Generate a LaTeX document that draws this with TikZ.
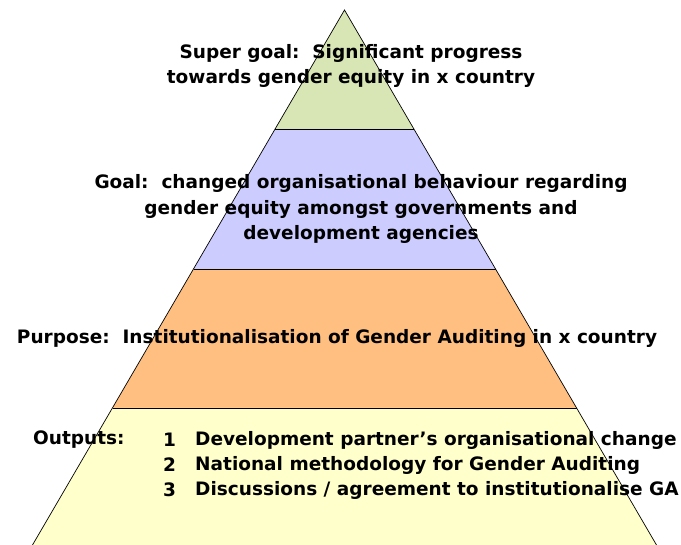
\documentclass[tikz,border=0pt]{standalone}
\usepackage{fontspec}
\setmainfont{DejaVu Sans}
\definecolor{tierA}{RGB}{215,230,180}
\definecolor{tierB}{RGB}{204,204,255}
\definecolor{tierC}{RGB}{255,191,128}
\definecolor{tierD}{RGB}{255,255,204}
\begin{document}
\begin{tikzpicture}[x=1pt,y=-1pt,
  edge/.style={draw=black,line width=0.7pt,line join=miter},
  lbl/.style={font=\fontsize{18.5}{25.5}\selectfont\bfseries,inner sep=0pt,align=center},
  lft/.style={font=\fontsize{18.5}{25.5}\selectfont\bfseries,inner sep=0pt,anchor=west}]
\useasboundingbox (0,0) rectangle (681,545);
% tiers of the pyramid, top to bottom
\coordinate (apex) at (344.5,10);
\coordinate (l1) at (275.1,129); \coordinate (r1) at (413.9,129);
\coordinate (l2) at (193.5,269); \coordinate (r2) at (495.5,269);
\coordinate (l3) at (112.5,408); \coordinate (r3) at (576.5,408);
\coordinate (l4) at (32.5,545);  \coordinate (r4) at (656.5,545);
\fill[tierA] (apex) -- (r1) -- (l1) -- cycle;
\fill[tierB] (l1) -- (r1) -- (r2) -- (l2) -- cycle;
\fill[tierC] (l2) -- (r2) -- (r3) -- (l3) -- cycle;
\fill[tierD] (l3) -- (r3) -- (r4) -- (l4) -- cycle;
\draw[edge] (l4) -- (apex) -- (r4);
\draw[edge] (l1) -- (r1);
\draw[edge] (l2) -- (r2);
\draw[edge] (l3) -- (r3);
% labels
\node[lbl] (super) at (351,66) {Super goal:\ \ Significant progress\\towards gender equity in x country};
\node[lbl] (goal) at (361,209) {Goal:\ \ changed organisational behaviour regarding\\gender equity amongst governments and\\development agencies};
\node[lbl] (purpose) at (337,338) {Purpose:\ \ Institutionalisation of Gender Auditing in x country};
\node[lft] (outs) at (33,440) {Outputs:};
\node[lft] (n1) at (163,440) {1};
\node[lft] (n2) at (163,465) {2};
\node[lft] (n3) at (163,490) {3};
\node[lft] (o1) at (195,440) {Development partner’s organisational change};
\node[lft] (o2) at (195,465) {National methodology for Gender Auditing};
\node[lft] (o3) at (195,490) {Discussions / agreement to institutionalise GA};
\end{tikzpicture}
\end{document}
